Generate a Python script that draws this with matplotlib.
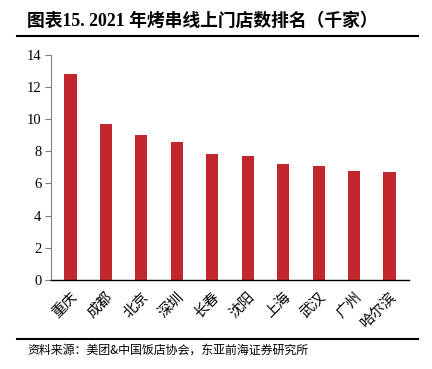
import matplotlib
matplotlib.use("Agg")
import matplotlib.pyplot as plt
from matplotlib.lines import Line2D

plt.rcParams['font.family'] = ['Liberation Serif', 'Noto Sans CJK SC', 'DejaVu Sans']

categories = ['重庆', '成都', '北京', '深圳', '长春', '沈阳', '上海', '武汉', '广州', '哈尔滨']
values = [12.8, 9.7, 9.0, 8.6, 7.8, 7.7, 7.2, 7.1, 6.8, 6.7]
yticks = [0, 2, 4, 6, 8, 10, 12, 14]
title = '图表15. 2021 年烤串线上门店数排名（千家）'
source = '资料来源：美团&中国饭店协会，东亚前海证券研究所'

W, H = 432, 369
fig = plt.figure(figsize=(W / 100, H / 100), dpi=100)
ax = fig.add_axes([51 / W, 1 - 280 / H, (409 - 51) / W, (280 - 54.7) / H])

x = range(len(categories))
ax.bar(x, values, width=0.34, color='#C1272D')
ax.set_xlim(-0.55, len(categories) - 0.45)
ax.set_ylim(0, 14)
ax.set_yticks(yticks)
ax.set_yticklabels([str(v) for v in yticks], fontsize=10.5, family='Liberation Serif')
ax.set_xticks(list(x))
ax.set_xticklabels(categories, rotation=45, ha='right', rotation_mode='anchor',
                   fontsize=10.5, family='Noto Sans CJK SC', fontweight='light')
ax.tick_params(axis='x', length=0, pad=7)
ax.tick_params(axis='y', direction='out', length=4, width=0.8, color='#808080', pad=3)
for s in ['top', 'right']:
    ax.spines[s].set_visible(False)
ax.spines['left'].set_color('#808080')
ax.spines['bottom'].set_color('black')
ax.spines['bottom'].set_linewidth(1.0)

fig.text(27 / W, 1 - 21 / H, title, fontsize=12.8, fontweight='bold',
         family=['Liberation Serif', 'Noto Sans CJK SC'], va='center', ha='left')
fig.add_artist(Line2D([17 / W, 418 / W], [1 - 36 / H, 1 - 36 / H], color='black', lw=1.5))
fig.add_artist(Line2D([17 / W, 418 / W], [1 - 339 / H, 1 - 339 / H], color='black', lw=1.5))
fig.text(27 / W, 1 - 350 / H, source, fontsize=8.6, family=['Noto Sans CJK SC'],
         fontweight='light', va='center', ha='left')

fig.savefig('out.png', dpi=100)
